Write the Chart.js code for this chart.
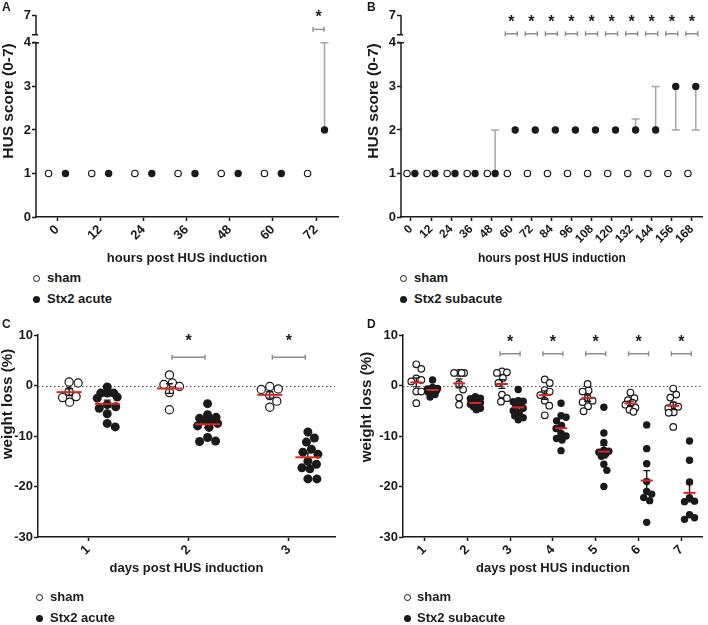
<!DOCTYPE html>
<html>
<head>
<meta charset="utf-8">
<script src="https://cdn.jsdelivr.net/npm/chart.js@4/dist/chart.umd.min.js"></script>
<style>
html,body{margin:0;padding:0;background:#fff;}
body{width:708px;height:625px;position:relative;overflow:hidden;font-family:"Liberation Sans",Arial,sans-serif;color:#1a1a1a;}
canvas{position:absolute;}
.pl{position:absolute;font:bold 12px "Liberation Sans",Arial,sans-serif;}
.lt{position:absolute;font:bold 13px "Liberation Sans",Arial,sans-serif;line-height:16px;white-space:nowrap;}
.mk{position:absolute;width:7px;height:7px;border-radius:50%;box-sizing:border-box;}
.mk.o{border:1.3px solid #1a1a1a;background:#fff;}
.mk.f{background:#1a1a1a;}
</style>
</head>
<body>
<canvas id="cA" width="354" height="270" style="left:0;top:0"></canvas>
<canvas id="cB" width="354" height="270" style="left:354px;top:0"></canvas>
<canvas id="cC" width="354" height="280" style="left:0;top:310px"></canvas>
<canvas id="cD" width="354" height="280" style="left:354px;top:310px"></canvas>

<div class="pl" style="left:2px;top:0px">A</div>
<div class="pl" style="left:367px;top:0px">B</div>
<div class="pl" style="left:2px;top:317px">C</div>
<div class="pl" style="left:367px;top:317px">D</div>

<div class="mk o" style="left:32.5px;top:274.5px"></div><div class="lt" style="left:47px;top:270px">sham</div>
<div class="mk f" style="left:32.5px;top:295.5px"></div><div class="lt" style="left:47px;top:291px">Stx2 acute</div>
<div class="mk o" style="left:399.5px;top:274.5px"></div><div class="lt" style="left:414px;top:270px">sham</div>
<div class="mk f" style="left:399.5px;top:295.5px"></div><div class="lt" style="left:414px;top:291px">Stx2 subacute</div>
<div class="mk o" style="left:35.5px;top:593.5px"></div><div class="lt" style="left:50px;top:589px">sham</div>
<div class="mk f" style="left:35.5px;top:614.5px"></div><div class="lt" style="left:50px;top:610px">Stx2 acute</div>
<div class="mk o" style="left:403.5px;top:593.5px"></div><div class="lt" style="left:417px;top:589px">sham</div>
<div class="mk f" style="left:403.5px;top:614.5px"></div><div class="lt" style="left:417px;top:610px">Stx2 subacute</div>

<script>
// ================= DATA =================
// Panel A: HUS score, acute model
const hoursA = [0, 12, 24, 36, 48, 60, 72];
const shamA = [1, 1, 1, 1, 1, 1, 1];
const stxAcuteA = [1, 1, 1, 1, 1, 1, 2];
const stxAcuteLowA = [1, 1, 1, 1, 1, 1, 2];
const stxAcuteHighA = [1, 1, 1, 1, 1, 1, 4];
const sigA = [72];

// Panel B: HUS score, subacute model
const hoursB = [0, 12, 24, 36, 48, 60, 72, 84, 96, 108, 120, 132, 144, 156, 168];
const shamB = [1, 1, 1, 1, 1, 1, 1, 1, 1, 1, 1, 1, 1, 1, 1];
const stxSubB = [1, 1, 1, 1, 1, 2, 2, 2, 2, 2, 2, 2, 2, 3, 3];
const stxSubLowB = [1, 1, 1, 1, 1, 2, 2, 2, 2, 2, 2, 2, 2, 2, 2];
const stxSubHighB = [1, 1, 1, 1, 2, 2, 2, 2, 2, 2, 2, 2.25, 3, 3, 3];
const sigB = [60, 72, 84, 96, 108, 120, 132, 144, 156, 168];

const scoreTicks = [0, 1, 2, 3, 4, 7];

// Panel C: weight loss, acute model
const daysC = [1, 2, 3];
const shamC = [
  [0.5, 0.7, -1.2, -2.2, -3.3, -2.4],
  [2.1, 0.5, 0.2, -0.2, -1.4, -4.8],
  [-0.2, -0.7, -0.8, -2.0, -3.1, -4.3]
];
const stxC = [
  [-0.3, -1.5, -1.5, -1.5, -2.3, -2.5, -3.8, -4.2, -4.5, -5.6, -7.5, -8.2],
  [-3.6, -5.8, -6.3, -6.5, -6.8, -7.0, -7.5, -8.0, -8.3, -10.3, -11.0, -11.1],
  [-9.2, -10.4, -11.2, -12.6, -13.2, -13.6, -15.0, -15.6, -16.3, -16.5, -18.5, -18.5]
];
const sigC = [2, 3];

// Panel D: weight loss, subacute model
const daysD = [1, 2, 3, 4, 5, 6, 7];
const shamD = [
  [4.2, 3.3, 1.4, 1.1, 0.8, -1.2, -1.2, -3.5],
  [2.5, 2.5, 2.5, 2.5, 0.3, -0.8, -2.4, -3.8],
  [2.8, 2.6, 2.5, 1.5, 0.5, -1.8, -2.5, -3.2],
  [1.2, 0.5, -0.9, -1.2, -1.9, -3.0, -4.0, -5.9],
  [0.3, -1.0, -1.2, -2.5, -3.0, -3.3, -4.1, -5.1],
  [-1.4, -2.5, -2.9, -3.4, -3.8, -4.4, -4.8, -5.2],
  [-0.6, -1.8, -2.4, -3.9, -4.2, -4.5, -5.3, -5.4, -8.2]
];
const stxD = [
  [1.1, -0.4, -0.6, -0.7, -0.8, -0.9, -1.0, -1.1, -1.3, -1.8, -2.3],
  [-2.2, -2.5, -2.6, -3.0, -3.2, -3.4, -3.5, -3.7, -3.9, -4.2, -4.5, -4.8],
  [-0.8, -3.0, -3.1, -3.2, -3.6, -4.0, -4.5, -5.0, -5.5, -6.0, -6.4, -6.8],
  [-3.5, -6.0, -6.3, -7.0, -7.9, -8.5, -9.5, -10.0, -10.5, -10.8, -12.9],
  [-4.3, -9.4, -11.3, -12.8, -13.0, -13.2, -13.5, -14.0, -15.6, -16.8, -20.0],
  [-7.8, -12.5, -15.5, -19.0, -21.0, -21.5, -22.2, -22.8, -27.1],
  [-11.0, -14.8, -19.1, -22.2, -22.9, -23.0, -25.6, -26.2, -26.5]
];
const sigD = [3, 4, 5, 6, 7];

const weightTicks = [10, 0, -10, -20, -30];

// ================= RENDERING =================
const FONT = '"Liberation Sans", Arial, Helvetica, sans-serif';
const INK = '#1a1a1a';
Chart.defaults.font.family = FONT;
Chart.defaults.color = INK;
Chart.defaults.animation = false;

function mean(a){ return a.reduce((s,v)=>s+v,0)/a.length; }
function sem(a){ const m=mean(a); const v=a.reduce((s,x)=>s+(x-m)*(x-m),0)/(a.length-1); return Math.sqrt(v/a.length); }

function makeDeco(cfg){
  return {
    id: 'deco',
    beforeDatasetsDraw(chart){
      const ctx = chart.ctx, ca = chart.chartArea, xs = chart.scales.x, ys = chart.scales.y;
      ctx.save();
      if (cfg.zeroLine){
        const y0 = Math.round(ys.getPixelForValue(0)) + 0.5;
        ctx.strokeStyle = '#555'; ctx.lineWidth = 1; ctx.setLineDash([1.5, 2.5]);
        ctx.beginPath(); ctx.moveTo(ca.left, y0); ctx.lineTo(ca.right, y0); ctx.stroke();
        ctx.setLineDash([]);
      }
      if (cfg.err){
        const e = cfg.err;
        ctx.strokeStyle = '#a6a6a6'; ctx.lineWidth = 1.5;
        e.x.forEach((h, i) => {
          if (e.lo[i] === e.hi[i]) return;
          const px = xs.getPixelForValue(h + e.off);
          const y1 = ys.getPixelForValue(e.lo[i]), y2 = ys.getPixelForValue(e.hi[i]);
          ctx.beginPath(); ctx.moveTo(px, y1); ctx.lineTo(px, y2);
          if (e.lo[i] !== e.val[i]) { ctx.moveTo(px-4, y1); ctx.lineTo(px+4, y1); }
          if (e.hi[i] !== e.val[i]) { ctx.moveTo(px-4, y2); ctx.lineTo(px+4, y2); }
          ctx.stroke();
        });
      }
      ctx.restore();
    },
    afterDatasetsDraw(chart){
      if (!cfg.groups) return;
      const ctx = chart.ctx, xs = chart.scales.x, ys = chart.scales.y;
      ctx.save();
      cfg.groups.forEach(g => {
        const cx = xs.getPixelForValue(g.c);
        const m = mean(g.vals), s = sem(g.vals);
        const yt = ys.getPixelForValue(m + s), yb = ys.getPixelForValue(m - s), ym = ys.getPixelForValue(m);
        ctx.strokeStyle = INK; ctx.lineWidth = 1.4;
        ctx.beginPath();
        ctx.moveTo(cx, yt); ctx.lineTo(cx, yb);
        ctx.moveTo(cx-3.5, yt); ctx.lineTo(cx+3.5, yt);
        ctx.moveTo(cx-3.5, yb); ctx.lineTo(cx+3.5, yb);
        ctx.stroke();
        ctx.strokeStyle = '#dd2222'; ctx.lineWidth = 2;
        ctx.beginPath(); ctx.moveTo(cx - cfg.meanHalf, ym); ctx.lineTo(cx + cfg.meanHalf, ym); ctx.stroke();
      });
      ctx.restore();
    },
    afterDraw(chart){
      const ctx = chart.ctx, ca = chart.chartArea, xs = chart.scales.x, ys = chart.scales.y;
      ctx.save();
      if (cfg.broken){
        const x = ca.left;
        const y0 = ys.getPixelForValue(0), y4 = ys.getPixelForValue(4);
        const yb = y4 - 8;
        ctx.strokeStyle = INK; ctx.lineWidth = 1.5;
        ctx.beginPath();
        ctx.moveTo(x, y0 + 0.75); ctx.lineTo(x, y4);
        ctx.moveTo(x - 4, y4); ctx.lineTo(x + 3, y4);
        ctx.moveTo(x, yb); ctx.lineTo(x, ca.top);
        ctx.moveTo(x - 4, yb); ctx.lineTo(x + 2, yb);
        ctx.stroke();
      }
      if (cfg.sig){
        const s = cfg.sig;
        s.at.forEach(v => {
          const cx = xs.getPixelForValue(v) + s.dx;
          const x1 = cx - s.half, x2 = cx + s.half;
          const y = ys.getPixelForValue(s.y);
          ctx.strokeStyle = '#8c8c8c'; ctx.lineWidth = 1.4;
          ctx.beginPath();
          ctx.moveTo(x1, y); ctx.lineTo(x2, y);
          ctx.moveTo(x1, y - 2.5); ctx.lineTo(x1, y + 2.5);
          ctx.moveTo(x2, y - 2.5); ctx.lineTo(x2, y + 2.5);
          ctx.stroke();
          ctx.fillStyle = INK; ctx.font = 'bold 16px ' + FONT;
          ctx.textAlign = 'center'; ctx.textBaseline = 'alphabetic';
          ctx.fillText('*', cx, y - s.starDy + 9);
        });
      }
      ctx.fillStyle = INK; ctx.textAlign = 'center'; ctx.textBaseline = 'middle';
      ctx.font = 'bold ' + cfg.xt.size + 'px ' + FONT;
      ctx.fillText(cfg.xt.text, (ca.left + ca.right) / 2, cfg.xt.y);
      ctx.translate(cfg.yt.x, cfg.yt.y); ctx.rotate(-Math.PI / 2);
      ctx.font = 'bold ' + cfg.yt.size + 'px ' + FONT;
      ctx.fillText(cfg.yt.text, 0, 0);
      ctx.restore();
    }
  };
}

function scoreChart(id, hours, sham, stx, lo, hi, sig, c){
  const off = 2.35;
  const datasets = [
    { label: 'sham', data: hours.map((h, i) => ({ x: h - off, y: sham[i] })),
      pointRadius: 3.2, pointBorderWidth: 1.2, pointBorderColor: INK, pointBackgroundColor: '#fff' },
    { label: c.stxLabel, data: hours.map((h, i) => ({ x: h + off, y: stx[i] })),
      pointRadius: 3.7, pointBorderWidth: 0, pointBackgroundColor: INK, pointBorderColor: INK }
  ];
  return new Chart(document.getElementById(id), {
    type: 'scatter',
    data: { datasets },
    options: {
      responsive: false, animation: false, events: [],
      layout: { padding: { top: c.top, right: c.right, left: 0, bottom: 0 } },
      plugins: { legend: { display: false }, tooltip: { enabled: false } },
      scales: {
        x: { type: 'linear', min: c.xmin, max: c.xmax,
          afterBuildTicks: s => { s.ticks = hours.map(v => ({ value: v })); },
          afterFit: s => { s.height = c.xH; },
          ticks: { autoSkip: false, minRotation: 45, maxRotation: 45, padding: 1,
            callback: v => String(v), font: { size: c.xFont, weight: 'bold' }, color: INK },
          grid: { display: true, drawOnChartArea: false, drawTicks: true, tickLength: 4, tickColor: INK, tickWidth: 1.5 },
          border: { display: true, color: INK, width: 1.5 } },
        y: { type: 'linear', min: 0, max: c.ytop,
          afterBuildTicks: s => { s.ticks = scoreTicks.map(v => ({ value: v <= 4 ? v : c.ytop })); },
          afterFit: s => { s.width = c.yW; },
          ticks: { callback: (v, i) => String(scoreTicks[i]), padding: 1, font: { size: 13, weight: 'bold' }, color: INK },
          grid: { display: true, drawOnChartArea: false, drawTicks: true, tickLength: 4, tickColor: INK, tickWidth: 1.5 },
          border: { display: false } }
      }
    },
    plugins: [makeDeco({
      broken: true,
      err: { x: hours, off: off, lo: lo, hi: hi, val: stx },
      sig: { at: sig, dx: c.sigDx, half: c.sigHalf, y: c.sigY, starDy: 16 },
      xt: { text: 'hours post HUS induction', size: c.xtSize, y: c.xtY },
      yt: { text: 'HUS score (0-7)', size: 15.5, x: c.ytX, y: 101 }
    })]
  });
}

// beeswarm layout (pixel space), limited horizontal spread
function swarm(chart, diam, maxHalf){
  const xs = chart.scales.x, ys = chart.scales.y;
  chart.data.datasets.forEach(ds => {
    const groups = {};
    ds.data.forEach(p => { (groups[p.c] = groups[p.c] || []).push(p); });
    Object.keys(groups).forEach(k => {
      const pts = groups[k];
      const cx = xs.getPixelForValue(pts[0].c);
      const placed = [];
      pts.map(p => ({ p, py: ys.getPixelForValue(p.y) }))
        .sort((a, b) => a.py - b.py)
        .forEach(o => {
          let best = 0, bestScore = -1;
          for (let s = 0; s < 400; s++){
            const offp = (s % 2 ? 1 : -1) * Math.ceil(s / 2) * 0.5;
            if (Math.abs(offp) > maxHalf) break;
            const md = placed.reduce((m, q) => Math.min(m, Math.hypot(q.px - offp, q.py - o.py)), Infinity);
            if (md >= diam) { best = offp; break; }
            if (md > bestScore + 0.01) { bestScore = md; best = offp; }
          }
          placed.push({ px: best, py: o.py });
          o.p.x = xs.getValueForPixel(cx + best);
        });
    });
  });
  chart.update('none');
}

function weightChart(id, days, sham, stx, sig, c){
  const off = 0.19;
  const shamPts = [], stxPts = [], groups = [];
  days.forEach((d, i) => {
    sham[i].forEach(v => shamPts.push({ x: d - off, y: v, c: d - off }));
    stx[i].forEach(v => stxPts.push({ x: d + off, y: v, c: d + off }));
    groups.push({ c: d - off, vals: sham[i] }, { c: d + off, vals: stx[i] });
  });
  const ch = new Chart(document.getElementById(id), {
    type: 'scatter',
    data: { datasets: [
      { label: 'sham', data: shamPts, pointRadius: c.r, pointBorderWidth: 1.2, pointBorderColor: INK, pointBackgroundColor: '#fff' },
      { label: c.stxLabel, data: stxPts, pointRadius: c.r + 0.4, pointBorderWidth: 0, pointBackgroundColor: INK, pointBorderColor: INK }
    ] },
    options: {
      responsive: false, animation: false, events: [],
      layout: { padding: { top: c.top, right: c.right, left: 0, bottom: 0 } },
      plugins: { legend: { display: false }, tooltip: { enabled: false } },
      scales: {
        x: { type: 'linear', min: 0.5, max: c.xmax,
          afterBuildTicks: s => { s.ticks = days.map(v => ({ value: v })); },
          afterFit: s => { s.height = c.xH; },
          ticks: { autoSkip: false, minRotation: 45, maxRotation: 45, padding: 1,
            callback: v => String(v), font: { size: 13, weight: 'bold' }, color: INK },
          grid: { display: true, drawOnChartArea: false, drawTicks: true, tickLength: 4, tickColor: INK, tickWidth: 1.5 },
          border: { display: true, color: INK, width: 1.5 } },
        y: { type: 'linear', min: -30, max: 10,
          afterBuildTicks: s => { s.ticks = weightTicks.map(v => ({ value: v })); },
          afterFit: s => { s.width = c.yW; },
          ticks: { callback: v => String(v), padding: 1, font: { size: 13, weight: 'bold' }, color: INK },
          grid: { display: true, drawOnChartArea: false, drawTicks: true, tickLength: 4, tickColor: INK, tickWidth: 1.5 },
          border: { display: true, color: INK, width: 1.5 } }
      }
    },
    plugins: [makeDeco({
      zeroLine: true,
      groups: groups, meanHalf: c.meanHalf,
      sig: { at: sig, dx: 0, half: c.sigHalf, y: c.sigY, starDy: c.starDy },
      xt: { text: 'days post HUS induction', size: 13, y: 258 },
      yt: { text: 'weight loss (%)', size: 15.2, x: c.ytX, y: c.ytY }
    })]
  });
  swarm(ch, c.diam, c.maxHalf);
  return ch;
}

scoreChart('cA', hoursA, shamA, stxAcuteA, stxAcuteLowA, stxAcuteHighA, sigA, {
  stxLabel: 'Stx2 acute', top: 15, right: 16, yW: 36, xH: 53, xmin: -5.84, xmax: 78.1, ytop: 4.64,
  xFont: 13, sigDx: 2.5, sigHalf: 5.5, sigY: 4.31, xtSize: 13, xtY: 258, ytX: 9
});
scoreChart('cB', hoursB, shamB, stxSubB, stxSubLowB, stxSubHighB, sigB, {
  stxLabel: 'Stx2 subacute', top: 15, right: 4, yW: 47, xH: 53, xmin: -5.96, xmax: 174.55, ytop: 4.64,
  xFont: 12, sigDx: 0, sigHalf: 6, sigY: 4.21, xtSize: 12, xtY: 259, ytX: 20
});
weightChart('cC', daysC, shamC, stxC, sigC, {
  stxLabel: 'Stx2 acute', top: 25, right: 19, yW: 38, xH: 53, xmax: 3.46,
  r: 4.1, diam: 8.6, maxHalf: 10, meanHalf: 12.5, sigHalf: 16.5, sigY: 5.6, starDy: 20, ytX: 8, ytY: 94
});
weightChart('cD', daysD, shamD, stxD, sigD, {
  stxLabel: 'Stx2 subacute', top: 25, right: 2, yW: 49, xH: 53, xmax: 7.5,
  r: 3.3, diam: 6.6, maxHalf: 5, meanHalf: 6, sigHalf: 10, sigY: 6.3, starDy: 16, ytX: 13, ytY: 97
});
</script>
</body>
</html>
